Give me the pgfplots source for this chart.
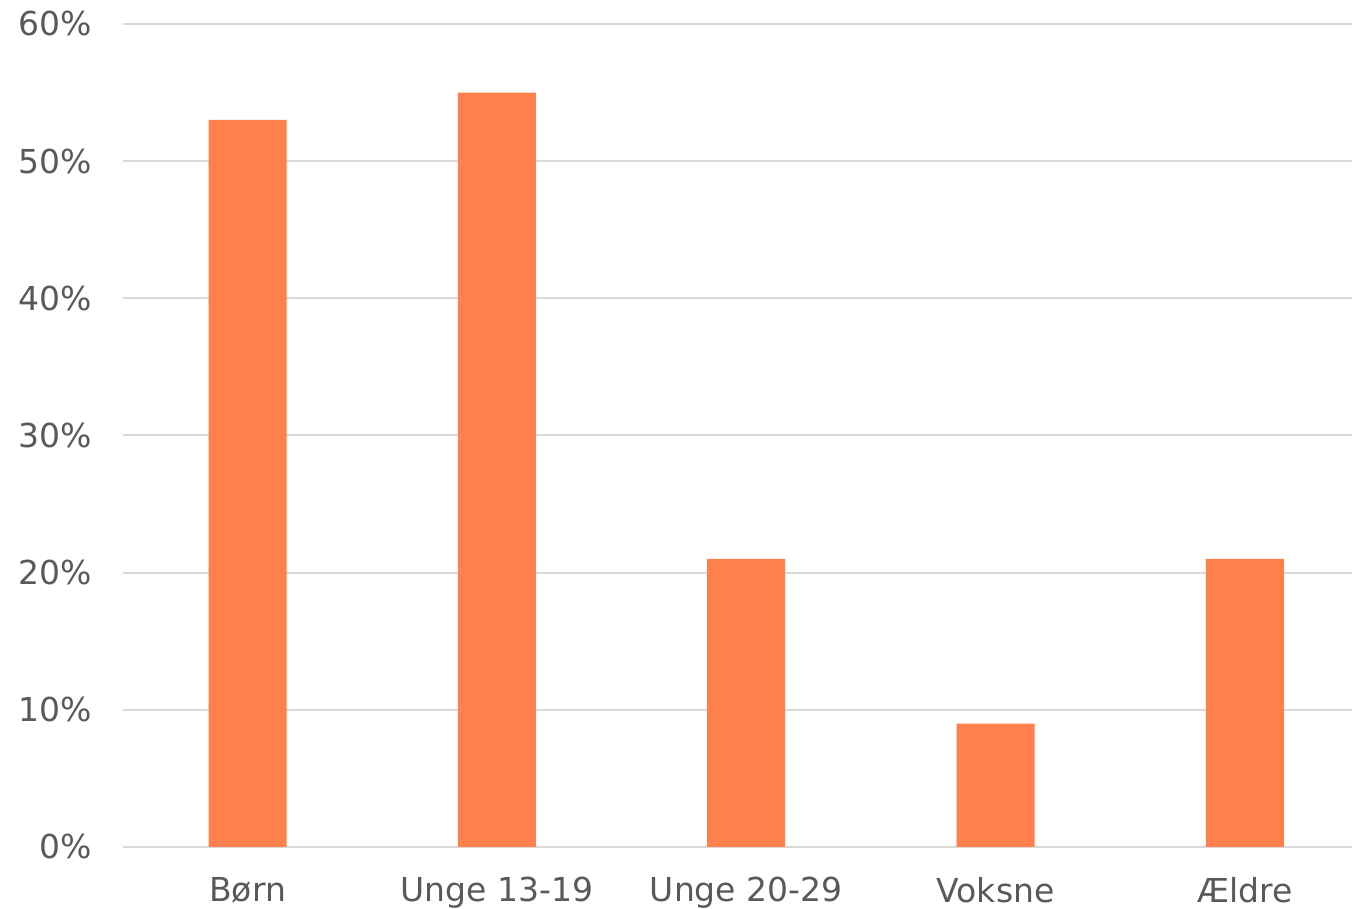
\documentclass[border=0pt]{standalone}
\usepackage{fontspec}
\setmainfont{DejaVu Sans}
\usepackage{pgfplots}
\pgfplotsset{compat=1.18}

\definecolor{barorange}{HTML}{FF7F4D}
\definecolor{gridgray}{HTML}{D9D9D9}
\definecolor{labelgray}{HTML}{595959}

\begin{document}
\begin{tikzpicture}
\begin{axis}[
  name=ax,
  scale only axis,
  width=614.5pt, height=411.5pt,
  xmin=-0.5, xmax=4.43,
  ymin=0, ymax=60,
  ytick={0,10,...,60},
  yticklabel={\pgfmathprintnumber{\tick}\%},
  xtick={0,1,2,3,4},
  xticklabels={Børn, Unge 13-19, Unge 20-29, Voksne, Ældre},
  ymajorgrids,
  grid style={gridgray, line width=1pt},
  axis line style={draw=none},
  major tick length=0pt,
  tick label style={font=\fontsize{16.5}{19}\selectfont, text=labelgray},
  /pgf/number format/assume math mode=true,
  yticklabel style={xshift=-12pt},
  xticklabel style={yshift=-11.5pt},
  ybar, bar width=0.313, bar shift=0pt,
  clip=false,
]
\addplot[fill=barorange, draw=none] coordinates {(0,53) (1,55) (2,21) (3,9) (4,21)};
\end{axis}
\pgfresetboundingbox
\path ([xshift=-61.5pt,yshift=-31pt]ax.south west) rectangle ([yshift=12pt]ax.north east);
\end{tikzpicture}
\end{document}
